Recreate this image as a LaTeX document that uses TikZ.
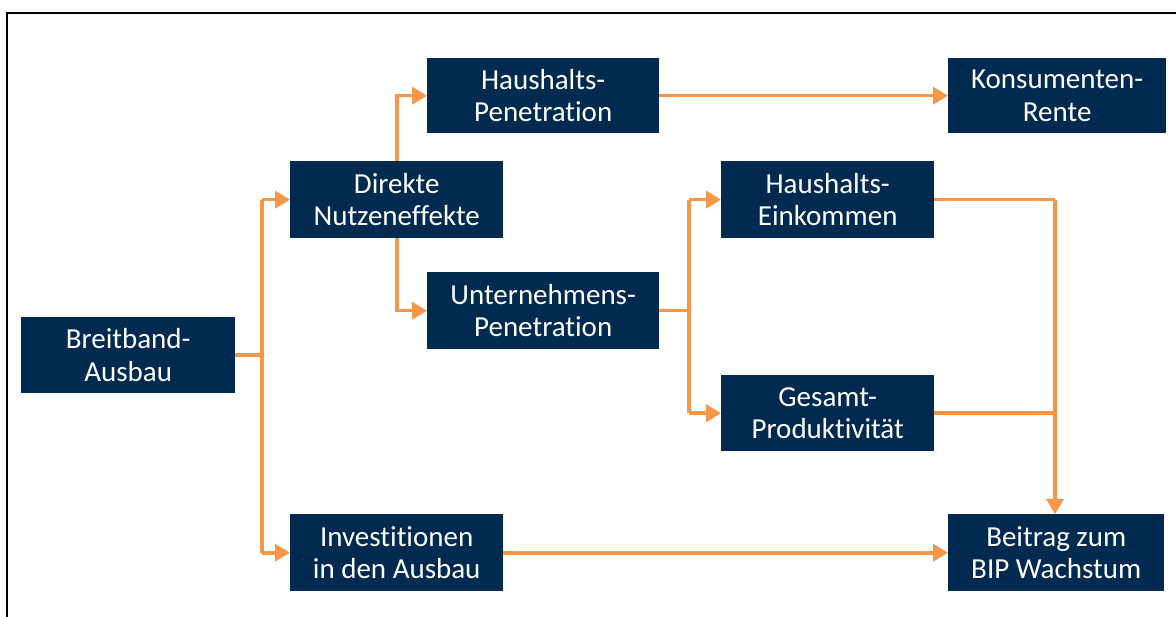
\documentclass[tikz,border=0pt]{standalone}
\usepackage{fontspec}
\setmainfont{Carlito}[Ligatures={NoCommon}]
\usetikzlibrary{arrows.meta}
\definecolor{boxnavy}{RGB}{0,42,80}
\definecolor{flow}{RGB}{247,150,70}
\begin{document}
\begin{tikzpicture}[x=1pt,y=-1pt,
  block/.style={fill=boxnavy,text=white,inner sep=0pt,anchor=north west,
    align=center,font=\fontsize{29}{32.6}\selectfont},
  link/.style={draw=flow,line width=3.6pt,line join=miter,
    -{Triangle[length=15pt,width=17pt]}},
  plain/.style={draw=flow,line width=3.6pt,line join=miter}]
\useasboundingbox (0,0) rectangle (1176,617);
% outer frame (top and left edges)
\draw[line width=2.6pt] (7,617) -- (7,13) -- (1176,13);

% boxes: corner at (x,y), size w x h
\newcommand{\blk}[6]{\node[block,minimum width=#4pt,minimum height=#5pt] (#1) at (#2,#3) {#6};}
\blk{ausbau}{21}{317}{214}{76}{Breitband-\\Ausbau}
\blk{direkt}{290}{161}{213}{77}{Direkte\\Nutzeneffekte}
\blk{hhpen}{427}{58}{232}{75}{Haushalts-\\Penetration}
\blk{unpen}{427}{272}{232}{77}{Unternehmens-\\Penetration}
\blk{rente}{948}{58}{218}{75}{Konsumenten-\\Rente}
\blk{einkom}{721}{161}{213}{77}{Haushalts-\\Einkommen}
\blk{produkt}{721}{375}{213}{76}{Gesamt-\\Produktivität}
\blk{invest}{290}{514}{213}{77}{Investitionen\\in den Ausbau}
\blk{bip}{948}{514}{216}{77}{Beitrag zum\\BIP Wachstum}

% junction points and bend columns
\coordinate (j1) at (262,355);
\coordinate (j2) at (689,310);
\coordinate (colD) at (397,0);
\coordinate (colR) at (1055,0);

% connectors
\draw[plain] (ausbau.east) -- (ausbau.east -| j1);
\draw[link] (j1 |- direkt.west) -- (direkt.west);
\draw[plain] (j1 |- direkt.west) -- (j1 |- invest.west);
\draw[link] (j1 |- invest.west) -- (invest.west);
\draw[link] (direkt.north -| colD) |- (hhpen.west);
\draw[link] (direkt.south -| colD) |- (unpen.west);
\draw[link] (hhpen.east) -- (rente.west);
\draw[plain] (unpen.east) -- (unpen.east -| j2);
\draw[plain] (j2 |- einkom.west) -- (j2 |- produkt.west);
\draw[link] (j2 |- einkom.west) -- (einkom.west);
\draw[link] (j2 |- produkt.west) -- (produkt.west);
\draw[plain] (einkom.east) -- (einkom.east -| colR);
\draw[plain] (produkt.east) -- (produkt.east -| colR);
\draw[link] (einkom.east -| colR) -- (bip.north -| colR);
\draw[link] (invest.east) -- (bip.west);
\end{tikzpicture}
\end{document}
